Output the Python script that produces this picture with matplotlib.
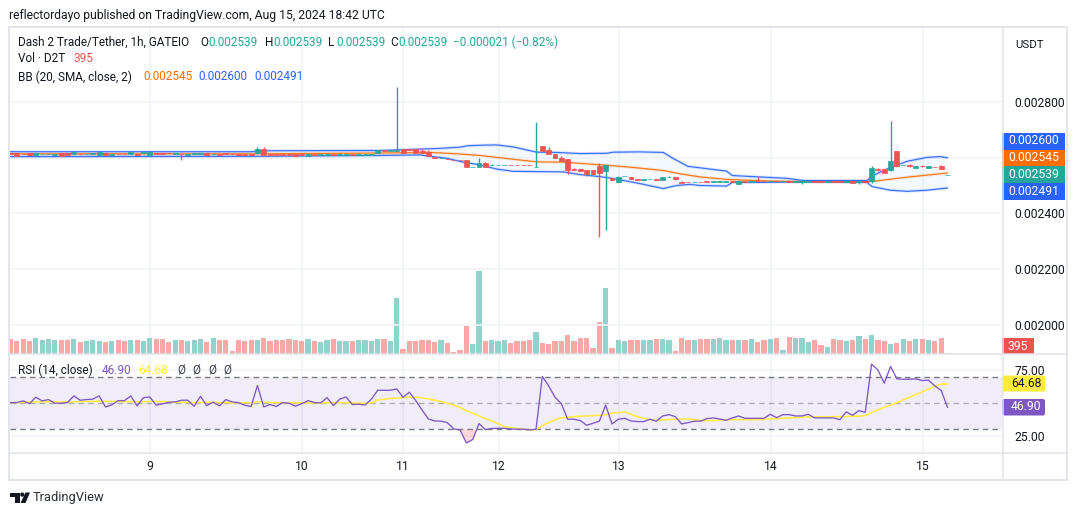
import numpy as np
import matplotlib
matplotlib.use("Agg")
import matplotlib.pyplot as plt
from matplotlib.patches import Rectangle, FancyBboxPatch, Circle, Polygon
from matplotlib.ticker import FuncFormatter, FixedLocator

W, H = 1080, 515
plt.rcParams['font.family'] = ['Roboto', 'DejaVu Sans']

# prices in millionths of USDT
OPEN = [2617,2617,2614,2618,2608,2613,2614,2609,2617,2618,
        2613,2615,2613,2614,2609,2618,2608,2615,2615,2612,
        2613,2616,2611,2616,2616,2618,2613,2614,2611,2613,
        2612,2618,2612,2612,2618,2615,2614,2613,2612,2617,
        2630,2612,2614,2612,2612,2612,2615,2607,2612,2611,
        2608,2615,2608,2608,2615,2611,2608,2608,2616,2627,
        2624,2625,2631,2631,2631,2624,2620,2602,2599,2597,
        2593,2593,2591,2567,2566,2580,2572,2572,2573,2574,
        2574,2574,2574,2566,2641,2627,2613,2598,2595,2558,
        2559,2555,2555,2569,2551,2526,2513,2533,2530,2522,
        2521,2523,2522,2519,2530,2530,2512,2514,2513,2514,
        2515,2514,2514,2514,2515,2507,2515,2514,2517,2516,
        2515,2516,2515,2516,2514,2514,2514,2515,2515,2513,
        2515,2515,2514,2515,2514,2515,2515,2561,2559,2557,
        2623,2572,2572,2562,2570,2562,2567,2569,2539]
CLOSE = [2615,2607,2613,2608,2618,2615,2615,2613,2607,2609,
         2620,2614,2615,2616,2619,2608,2612,2614,2614,2619,
         2608,2619,2620,2614,2614,2616,2616,2612,2615,2617,
         2618,2610,2614,2608,2615,2612,2611,2610,2609,2631,
         2608,2611,2608,2611,2611,2607,2610,2612,2611,2612,
         2614,2608,2612,2615,2608,2612,2612,2614,2626,2625,
         2626,2627,2618,2629,2618,2617,2605,2600,2600,2596,
         2591,2591,2566,2568,2580,2565,2574,2574,2574,2572,
         2572,2572,2572,2568,2623,2613,2600,2587,2555,2556,
         2552,2541,2541,2544,2573,2519,2529,2534,2523,2520,
         2522,2525,2521,2530,2532,2522,2510,2512,2514,2513,
         2513,2515,2515,2515,2514,2515,2514,2516,2516,2515,
         2516,2515,2516,2514,2515,2515,2515,2514,2514,2515,
         2514,2514,2515,2510,2515,2513,2562,2556,2545,2587,
         2569,2573,2571,2571,2569,2571,2565,2560,2539]
WICK_HIGH = {39:2638, 40:2638, 61:2854, 63:2633, 64:2633, 65:2631, 66:2627, 74:2598, 75:2585,
             76:2578, 83:2728, 85:2638, 87:2605, 89:2562, 93:2580, 96:2535, 97:2535, 104:2535,
             106:2515, 118:2530, 136:2569, 137:2562, 139:2732, 142:2576, 144:2575, 147:2572}
WICK_LOW = {27:2590, 83:2565, 88:2541, 91:2533, 93:2315, 94:2340, 125:2505, 134:2505, 136:2510,
            137:2551, 139:2553, 142:2568, 144:2565}

VOLUME_K = [5.7,4.9,5.7,4.9,6.1,5.3,5.7,5.3,5.3,5.3,5.7,4.5,4.9,5.3,4.9,4.5,4.9,5.3,4.9,5.3,
            5.3,4.9,6.1,5.7,5.7,4.5,5.3,5.3,4.9,5.3,5.7,4.5,6.1,5.3,5.3,0.9,5.3,4.9,5.3,5.3,
            6.1,4.9,5.3,5.3,5.7,5.3,4.9,5.7,4.9,4.5,
            5.3,5.7,4.9,4.9,4.9,5.3,5.3,4.9,5.7,5.7,4.9,22.1,1.7,4.9,4.9,5.3,5.3,4.5,5.3,4.1,
            0.5,1.3,10.9,3.7,32.9,4.9,5.3,4.9,5.3,4.1,4.9,4.9,5.3,8.5,4.1,3.7,4.9,4.9,7.3,4.9,
            6.1,6.1,2.1,12.5,26.1,2.1,5.3,4.9,5.3,5.3,
            5.3,5.3,5.7,5.7,5.3,0.9,6.1,5.3,5.3,5.7,5.7,5.7,6.1,5.3,5.3,5.3,5.3,5.7,4.5,5.3,
            5.7,6.1,1.3,6.5,6.1,6.1,4.5,5.3,3.3,2.5,5.7,5.3,4.9,5.3,6.9,5.7,7.3,5.3,4.9,3.7,
            4.1,5.7,4.9,5.7,5.7,5.3,4.9,6.1,0.395]
VOLUME_SIDE = ("RRRRGGGGRR" "GRGGGRGRRG" "RGGRRRGRGG" "GRGRRRRRRG" "RRRRRRRGRG"
               "GRGGRGGGGR" "GGRRRRRRGR" "RRRGGRGGGR" "RRRGRRRRRR" "RRRRGRGGRR"
               "GGRGGRRRGR" "RGGGRGRGRR" "GRGRGGGRRG" "RRGRGRGRRG" "RGRGRGRRR")

RSI = [50.5,50.5,51.8,49.7,54.6,51.8,52.8,50,50,50.5,55.6,52.3,52.8,53.1,55.6,47.2,48.7,52,52,55.6,
       48,54.3,54.8,48.5,49.5,50.8,51,52.3,52.3,47.7,55.3,48.2,50.8,48,52.8,51,50.5,48.5,47.5,63.5,
       47.2,49,47.5,50.5,50,47.7,49.7,52,50.5,50.3,54.3,48.2,53.1,54.8,49,49.2,48.7,53.1,59.9,59.9,
       59.9,60.9,54.6,58.4,52,44.9,38,36.5,36.3,35.2,30.4,29.6,19.7,22.3,34.5,29.9,30.7,30.9,30.9,30.4,
       30.2,30.2,29.6,30.2,70.4,63.2,54.6,49.7,37.8,37.8,36.8,33.2,34.7,36.3,48.5,34.2,37.8,38.5,36.5,36,
       36,37.8,36.3,40.3,41.3,39.8,34.2,35.2,36.3,36.3,38.3,38.8,38,37,38.8,40.3,38.5,38.5,38.5,38.5,
       41.6,39,41.3,41.3,40.3,40.3,41.6,38.8,38.8,38.8,38.8,37.5,43.4,40.8,44.4,43.1,79.8,75.4,65.3,78,
       68.6,68.3,68.3,68.6,67.3,67.6,63.2,59.7,46.9]
RSI_MA = [50.5,50.5,50.7,50.8,51,51,51.2,51.2,51,51,51,51.2,51.3,51.4,51.5,51.5,51.4,51.3,51.2,51.2,
          51.2,51.1,51.4,51.3,51.3,51,50.8,50.7,50.7,50.5,50.5,50.7,50.7,50.5,50.5,50.3,50.3,50.4,50.3,51,
          50.8,50.6,50.4,50.3,50.3,50.2,50.2,50.2,50.2,50.3,50.3,50.3,50.4,50.4,50.2,50,50,50.2,
          52.5,53,53.6,53.9,54.3,54.6,54.6,54.1,53.3,52.3,51.3,50,48.7,46.7,44.4,42.4,40.3,38.3,36.5,34.5,
          32.2,31.4,30.7,30.2,29.6,29.9,33,35.2,37.3,38.8,39.3,39.8,40.1,40.3,40.6,40.8,41.1,42.4,42.9,43.4,
          41.6,39.8,38.5,37.5,36.8,37.3,37.5,37.8,38,38,37.5,36.8,36.8,36.8,37,37.3,37.5,37.5,37.5,37.5,
          37.5,37.8,38,38.3,38.5,38.8,39,39.3,39.6,39.6,39.6,39.6,39.8,39.8,39.8,40.1,40.1,40.6,42.9,44.9,
          46.9,48.5,50.5,52.5,54.6,56.6,58.7,60.7,63,64.7,64.68]

BB_UP_I = [0,38,40,58.4,61,63.6,67.3,71,72.2,74.2,76.8,79.4,83.1,86.3,90,94.2,95.2,99.4,103.1,104.7,
           107,113.1,114,117.3,122.6,125.2,135.3,136.3,138.6,141.6,144.7,146.8,148]
BB_UP = [2621.6,2621.6,2625,2626,2628,2630,2633,2638,2643,2645,2646,2639,2620,2619,2615,2616,2620,2621,2619,2597,
         2569,2552,2536,2532,2526,2518,2518,2537,2561,2587,2601,2604,2600]
BB_LO_I = [0,38,58.4,61,64.7,66.3,68.9,71.5,74.2,76.8,79.4,83.1,87.3,90,93.1,95.2,99.4,103.1,105.2,107.3,108.9,
           113.1,114,117.3,125.2,135.3,136,136.3,139,141.6,144.7,148]
BB_LO = [2604,2605,2608,2609,2610,2605,2598,2584,2574,2559,2551,2550,2549,2539,2532,2525,2507,2489,2500,2504,2500,
         2498,2511,2511,2513,2511,2497,2495,2483,2479,2483,2491]
BB_MID_I = [0,38,58.4,66.3,70.5,74.2,78.4,83.1,87.3,91,94.7,98.3,103.1,105.8,108.9,113.1,120,125.2,135.3,136.6,141.6,148]
BB_MID = [2614,2614,2617,2619,2614,2608,2597,2585,2584,2578,2572,2565,2554,2542,2531,2522,2516,2514,2514,2516,2530,2545]

DAY_POS = [22, 46, 62, 77.2, 96.1, 120.1, 144.1]
DAY_LABELS = ['9', '10', '11', '12', '13', '14', '15']
PRICE_GRID = [2000, 2200, 2400, 2600, 2800]
PRICE_LABELLED = [2000, 2200, 2400, 2800]   # 0.002600 sits under the last-value boxes
RSI_TICKS = [25, 75]

assert len(OPEN) == len(CLOSE) == len(VOLUME_K) == len(VOLUME_SIDE) == len(RSI) == len(RSI_MA) == 149

TEAL, RED = '#26a69a', '#ef5350'
BLUE, ORANGE, PURPLE, YELLOW = '#2962ff', '#ff6d00', '#7e57c2', '#ffeb3b'
GRID, BORDER, TXT = '#f0f3fa', '#e0e3eb', '#131722'

def rect(x0, y0, x1, y1):
    return [x0 / W, 1 - y1 / H, (x1 - x0) / W, (y1 - y0) / H]

fig = plt.figure(figsize=(W / 100, H / 100), dpi=100, facecolor='white')
XLIM = (-0.08, 156.6)
idx = np.arange(len(OPEN))

# volume pane (behind candles)
axv = fig.add_axes(rect(10, 27, 1002, 353.5))
axv.set_xlim(*XLIM)
axv.set_ylim(0, 130.6)
axv.bar(idx, VOLUME_K, width=0.82, linewidth=0,
        color=['#92d2cc' if s == 'G' else '#f7a9a7' for s in VOLUME_SIDE], zorder=2)
axv.set_xticks(DAY_POS)
axv.set_xticklabels([])
axv.set_yticks([])
axv.tick_params(length=0)
axv.grid(axis='x', color=GRID, lw=1.2, zorder=0)
for s in axv.spines.values():
    s.set_visible(False)

# price pane
ax = fig.add_axes(rect(10, 27, 1002, 353.5), facecolor='none')
ax.set_xlim(*XLIM)
ax.set_ylim(1896, 3070)
ax.yaxis.tick_right()
ax.yaxis.set_major_locator(FixedLocator(PRICE_GRID))
ax.yaxis.set_major_formatter(FuncFormatter(lambda v, _: f"{v / 1e6:.6f}" if v in PRICE_LABELLED else ""))
ax.tick_params(axis='y', length=0, pad=9, labelsize=8.7, labelcolor=TXT)
ax.set_xticks([])
ax.grid(axis='y', color=GRID, lw=1.2, zorder=0)
for s in ax.spines.values():
    s.set_visible(False)

ax.fill(list(BB_UP_I) + list(BB_LO_I)[::-1], list(BB_UP) + list(BB_LO)[::-1],
        color='#2196f3', alpha=0.05, lw=0, zorder=1)
for xs, ys, c in ((BB_UP_I, BB_UP, BLUE), (BB_LO_I, BB_LO, BLUE), (BB_MID_I, BB_MID, ORANGE)):
    ax.plot(xs, ys, color=c, lw=2.2, alpha=0.16, zorder=2, solid_capstyle='butt')
    ax.plot(xs, ys, color=c, lw=0.85, alpha=0.9, zorder=2.2)

o, c = np.array(OPEN, float), np.array(CLOSE, float)
hi = np.maximum(o, c)
lo = np.minimum(o, c)
for k, v in WICK_HIGH.items():
    hi[k] = v
for k, v in WICK_LOW.items():
    lo[k] = v
cols = [TEAL if cl >= op else RED for op, cl in zip(o, c)]
ax.vlines(idx, lo, hi, colors=cols, lw=1.0, zorder=3)
ax.bar(idx, np.abs(c - o), bottom=np.minimum(o, c), width=0.78, color=cols, edgecolor=cols, lw=0.5, zorder=3.1)

# RSI pane
axr = fig.add_axes(rect(10, 355, 1002, 452))
axr.set_xlim(*XLIM)
axr.set_ylim(12.8, 86.8)
axr.axhspan(30, 70, color=PURPLE, alpha=0.1, lw=0, zorder=1)
axr.axhline(70, color='#787b86', lw=1, dashes=(4, 3), zorder=2)
axr.axhline(30, color='#787b86', lw=1, dashes=(4, 3), zorder=2)
axr.axhline(50, color='#787b86', lw=1, dashes=(4, 3), alpha=0.55, zorder=2)
r = np.array(RSI)
axr.fill_between(idx, r, 30, where=r < 30, interpolate=True, color=RED, alpha=0.22, lw=0, zorder=2)
axr.plot(idx, RSI_MA, color=YELLOW, lw=1.1, zorder=3)
axr.plot(idx, RSI, color=PURPLE, lw=0.95, zorder=4)
axr.yaxis.tick_right()
axr.set_yticks(RSI_TICKS)
axr.yaxis.set_major_formatter(FuncFormatter(lambda v, _: f"{v:.2f}"))
axr.tick_params(axis='y', length=0, pad=9, labelsize=8.7, labelcolor=TXT)
axr.set_xticks(DAY_POS)
axr.set_xticklabels(DAY_LABELS)
axr.tick_params(axis='x', length=0, pad=6, labelsize=8.7, labelcolor=TXT)
axr.set_axisbelow(True)
axr.grid(axis='both', color=GRID, lw=1.2, zorder=0)
for s in axr.spines.values():
    s.set_visible(False)

# chrome (pixel coordinates)
ui = fig.add_axes([0, 0, 1, 1], facecolor='none', zorder=10)
ui.set_xlim(0, W)
ui.set_ylim(H, 0)
ui.axis('off')
ui.add_patch(Rectangle((9, 27), 1058, 453, fill=False, ec=BORDER, lw=1.3))
ui.plot([1002.5, 1002.5], [27, 480], color=BORDER, lw=1.1)
ui.plot([9, 1067], [354, 354], color=BORDER, lw=1.1)
ui.plot([9, 1067], [452.5, 452.5], color=BORDER, lw=1.1)

def t(x, y, s, color=TXT, size=8.7, ha='left', **kw):
    ui.text(x, y, s, color=color, fontsize=size, ha=ha, va='center', **kw)

t(9, 15, 'reflectordayo published on TradingView.com, Aug 15, 2024 18:42 UTC', size=8.7)
t(18, 42, 'Dash 2 Trade/Tether, 1h, GATEIO', size=8.5)
for x, s in ((200, 'O'), (265, 'H'), (328, 'L'), (390, 'C')):
    t(x, 42, s, size=8.5)
    t(x + 8, 42, '0.002539', color=TEAL, size=8.5)
t(453, 42, '\u22120.000021 (\u22120.82%)', color=TEAL, size=8.5)
t(18, 59, 'Vol \u00b7 D2T', size=8.5)
t(74, 59, '395', color=RED, size=8.5)
t(18, 77, 'BB (20, SMA, close, 2)', size=8.5)
t(143, 77, '0.002545', color=ORANGE, size=8.5)
t(198, 77, '0.002600', color=BLUE, size=8.5)
t(254, 77, '0.002491', color=BLUE, size=8.5)
t(18, 370, 'RSI (14, close)', size=8.5)
t(102, 370, '46.90', color=PURPLE, size=8.5)
t(138, 370, '64.68', color=YELLOW, size=8.5)
for x in (177, 192, 208, 223):
    t(x, 370, '\u00d8', color='#434651', size=8.5)

for y0, y1, col, s in ((132.5, 149.5, BLUE, '0.002600'), (149.5, 166, ORANGE, '0.002545'),
                       (166, 183, TEAL, '0.002539'), (183, 200, BLUE, '0.002491')):
    ui.add_patch(Rectangle((1002, y0), 63, y1 - y0, color=col, lw=0))
    t(1033.5, (y0 + y1) / 2, s, color='white', ha='center')
ui.add_patch(Rectangle((1002, 338), 32, 16, color=RED, lw=0))
t(1018, 346, '395', color='white', ha='center')
ui.add_patch(FancyBboxPatch((1002, 375.5), 43, 16, boxstyle='round,pad=0,rounding_size=2', color=YELLOW, lw=0))
t(1011, 383.5, '64.68', color=TXT)
ui.add_patch(FancyBboxPatch((1002, 399), 43, 16.5, boxstyle='round,pad=0,rounding_size=2', color=PURPLE, lw=0))
t(1011, 407, '46.90', color='white')
t(1029, 45, 'USDT', size=8.2, ha='center')

# TradingView logo
ui.add_patch(Polygon([(10, 492.5), (20, 492.5), (20, 503), (15, 503), (15, 497), (10, 497)], color='#131722', lw=0))
ui.add_patch(Circle((22.3, 494.6), 2.1, color='#131722', lw=0))
ui.add_patch(Polygon([(25.5, 492.5), (30, 492.5), (25.5, 503), (20.5, 503)], color='#131722', lw=0))
t(33, 497, 'TradingView', size=9.3, color='#2a2e39')

fig.savefig('out.png', dpi=100, facecolor='white')
